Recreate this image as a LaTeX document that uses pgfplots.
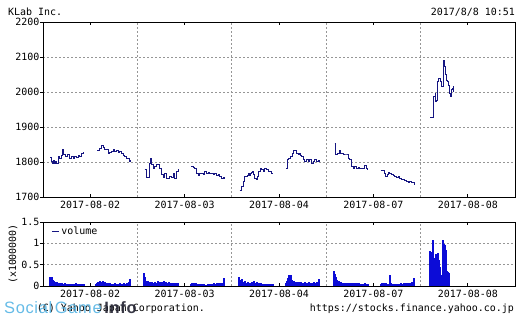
\documentclass[border=0pt]{standalone}
\usepackage{pgfplots}
\pgfplotsset{compat=1.18}
\usepackage{fontspec}
\setmainfont{DejaVu Sans Mono}
\newfontfamily\wmfont[LetterSpace=4]{Liberation Sans}
\definecolor{pricec}{RGB}{22,22,130}
\definecolor{volc}{RGB}{12,12,215}
\definecolor{gridc}{RGB}{150,150,150}
\definecolor{wmblue}{RGB}{85,180,228}
\definecolor{wmdark}{RGB}{35,35,50}
\pgfplotsset{
  common/.style={
    scale only axis, width=472bp,
    xmin=0, xmax=472,
    axis line style={black, line width=0.9bp},
    xtick={47.2,141.6,236,330.4,424.8},
    xticklabels={2017-08-02,2017-08-03,2017-08-04,2017-08-07,2017-08-08},
    minor xtick={94.4,188.8,283.2,377.6},
    xminorgrids, ymajorgrids,
    minor grid style={gridc, dash pattern=on 2bp off 2bp, line width=0.7bp},
    major grid style={gridc, dash pattern=on 2bp off 2bp, line width=0.7bp},
    minor tick length=0pt, major tick length=3bp,
    tick align=inside, ytick pos=left,
    y tick style={xshift=-3bp, black, line width=0.8bp},
    x tick style={black, line width=0.8bp},
    tick label style={font=\fontsize{10}{12}\selectfont},
    /pgf/number format/assume math mode=true,
    /pgf/number format/set thousands separator={},
    xticklabel style={yshift=-1bp},
  }
}
\begin{document}
\begin{tikzpicture}
\useasboundingbox (0,0) rectangle (521bp,319bp);
% titles
\node[anchor=west, inner sep=0, font=\fontsize{10}{12}\selectfont] at (8bp,307bp) {KLab Inc.};
\node[anchor=east, inner sep=0, font=\fontsize{10}{12}\selectfont] at (515bp,307bp) {2017/8/8 10:51};
% price axis
\begin{axis}[common, at={(43bp,122bp)}, anchor=south west, height=175bp,
  ymin=1700, ymax=2200, ytick={1700,1800,...,2200}]
\addplot[const plot, pricec, line width=1bp] coordinates {
(7.3,1813)(8.5,1800)(9.5,1797)(10.5,1805)(11.5,1795)(12.5,1800)(13.3,1797)
(15,1816)(16.7,1811)(18.3,1819)(19.3,1835)(20.7,1821)(22.7,1816)(24,1821)
(26,1811)(28.3,1816)(30,1811)(31.7,1816)(33.3,1813)(35,1819)(36.7,1816)
(38.3,1823)(40,1826)(41,1826)};
\addplot[const plot, pricec, line width=1bp] coordinates {
(54.3,1832)(56.7,1838)(58.3,1848)(60,1842)(61.7,1835)(65,1825)(66.7,1828)
(68.3,1830)(70,1835)(71.7,1830)(73.3,1832)(75,1828)(76.7,1830)(78.3,1825)
(80,1819)(81.7,1816)(83.3,1811)(85,1811)(86,1802)(87.3,1806)};
\addplot[const plot, pricec, line width=1bp] coordinates {
(101.7,1778)(103.3,1756)(106,1797)(107.3,1811)(108.3,1792)(110,1782)
(111.7,1787)(113.3,1792)(115,1794)(116.7,1782)(118.3,1763)(120,1756)
(121.7,1768)(123.3,1754)(125,1752)(126.7,1759)(128.3,1756)(130,1766)
(131.7,1754)(133.3,1773)(135,1781)};
\addplot[const plot, pricec, line width=1bp] coordinates {
(148.3,1786)(150,1783)(151.7,1781)(153.3,1768)(155,1762)(156.7,1766)
(158.3,1768)(160,1763)(161.7,1773)(163.3,1768)(165,1771)(166.7,1766)
(168.3,1768)(170,1763)(171.7,1766)(173.3,1762)(175,1763)(176.7,1759)
(178.3,1754)(180,1756)(181.7,1752)};
\addplot[const plot, pricec, line width=1bp] coordinates {
(196.7,1719)(198.3,1730)(200,1744)(201,1759)(202.7,1759)(204,1760)(205,1768)
(206,1760)(207.3,1766)(208.3,1770)(209.3,1773)(210.7,1763)(211.7,1754)
(213.3,1749)(214,1759)(215.7,1773)(217.3,1780)(218.7,1778)(220,1773)
(221.7,1780)(223.3,1778)(225,1773)(226.7,1773)(228.3,1768)(229.3,1766)};
\addplot[const plot, pricec, line width=1bp] coordinates {
(243.3,1782)(244.3,1806)(245.3,1811)(247.3,1816)(249.3,1825)(250.7,1833)
(252,1833)(253.3,1825)(255,1820)(256,1825)(257.3,1818)(258.7,1816)(260,1808)
(261.7,1801)(263.3,1806)(265,1801)(266.7,1806)(268.3,1797)(270,1801)
(271.7,1806)(273.3,1801)(275,1804)(276.7,1801)};
\addplot[const plot, pricec, line width=1bp] coordinates {
(291.7,1854)(292.7,1820)(294,1825)(296,1833)(297.3,1825)(300,1820)(303.3,1820)
(305,1811)(306.7,1806)(308.3,1787)(310,1782)(311.7,1787)(313.3,1780)
(315,1785)(316.7,1780)(318.3,1782)(320,1780)(321.7,1789)(323.3,1782)
(324.3,1778)};
\addplot[const plot, pricec, line width=1bp] coordinates {
(337.7,1776)(340,1776)(341.7,1768)(342.7,1759)(344,1763)(345.3,1770)
(346.7,1768)(348.3,1763)(350,1760)(351.7,1759)(353.3,1757)(355,1759)
(356.7,1754)(358.3,1751)(360,1749)(361.7,1747)(363.3,1744)(365,1741)
(366.7,1743)(368.3,1741)(370,1742)(371.7,1735)};
\addplot[const plot, pricec, line width=1bp] coordinates {
(387.3,1928)(389.7,1928)(390,1968)(390.7,1987)(392,1996)(392.7,1972)
(393.7,1977)(394,2006)(394.7,2030)(395.7,2039)(397,2030)(398,2030)
(398.7,2015)(400,2015)(400.7,2091)(401.3,2072)(402,2049)(403,2034)
(404.7,2030)(405.7,2020)(406.3,1996)(407,1987)(408,2006)(409.3,2010)
(410.3,2017)(410.7,2001)};
\end{axis}
% volume axis
\begin{axis}[common, at={(43bp,33bp)}, anchor=south west, height=64bp,
  ymin=0, ymax=1.5, ytick={0,0.5,1,1.5}, yticklabels={0,0.5,1,1.5},
  legend style={draw=none, fill=none, at={(0.015,0.98)}, anchor=north west,
    font=\fontsize{10}{12}\selectfont, inner sep=1pt},
  legend image code/.code={\draw[#1] (0bp,0bp) -- (7bp,0bp);}]
\addlegendimage{pricec, line width=1bp}
\addlegendentry{volume}
\addplot[ycomb, volc, line width=1.05bp, forget plot] coordinates {
(7,0.21)(8,0.22)(9,0.2)(10,0.15)(11,0.12)(12,0.1)(13,0.08)(14,0.1)(15,0.07)
(16,0.06)(17,0.08)(18,0.05)(19,0.06)(20,0.04)(21,0.05)(22,0.06)(23,0.04)
(24,0.03)(25,0.05)(26,0.04)(27,0.05)(28,0.03)(29,0.04)(30,0.05)(31,0.03)
(32,0.04)(33,0.06)(34,0.03)(35,0.04)(36,0.05)(37,0.03)(38,0.04)(39,0.05)
(40,0.04)(41,0.05)
(53,0.04)(54,0.06)(55,0.1)(56,0.08)(57,0.11)(58,0.07)(59,0.1)(60,0.12)
(61,0.06)(62,0.1)(63,0.08)(64,0.06)(65,0.07)(66,0.05)(67,0.06)(68,0.04)
(69,0.05)(70,0.03)(71,0.04)(72,0.06)(73,0.03)(74,0.04)(75,0.05)(76,0.03)
(77,0.06)(78,0.04)(79,0.05)(80,0.03)(81,0.07)(82,0.04)(83,0.05)(84,0.06)
(85,0.04)(86,0.09)(87,0.17)
(101,0.3)(102,0.2)(103,0.12)(104,0.1)(105,0.12)(106,0.08)(107,0.1)(108,0.07)
(109,0.09)(110,0.06)(111,0.08)(112,0.1)(113,0.06)(114,0.08)(115,0.12)
(116,0.07)(117,0.09)(118,0.05)(119,0.1)(120,0.07)(121,0.12)(122,0.06)
(123,0.1)(124,0.08)(125,0.05)(126,0.1)(127,0.07)(128,0.05)(129,0.08)
(130,0.06)(131,0.04)(132,0.07)(133,0.05)(134,0.06)(135,0.07)
(148,0.05)(149,0.08)(150,0.06)(151,0.07)(152,0.04)(153,0.06)(154,0.05)
(155,0.04)(156,0.05)(157,0.03)(158,0.04)(159,0.05)(160,0.03)(161,0.04)
(162,0.03)(163,0.02)(164,0.03)(165,0.04)(166,0.03)(167,0.04)(168,0.05)
(169,0.03)(170,0.04)(171,0.06)(172,0.04)(173,0.05)(174,0.07)(175,0.05)
(176,0.06)(177,0.08)(178,0.05)(179,0.07)(180,0.06)(181,0.18)
(196,0.2)(197,0.14)(198,0.1)(199,0.16)(200,0.08)(201,0.1)(202,0.12)(203,0.08)
(204,0.06)(205,0.1)(206,0.07)(207,0.08)(208,0.06)(209,0.1)(210,0.07)
(211,0.12)(212,0.08)(213,0.06)(214,0.1)(215,0.06)(216,0.05)(217,0.08)
(218,0.06)(219,0.04)(220,0.05)(221,0.04)(222,0.05)(223,0.04)(224,0.05)
(225,0.04)(226,0.05)(227,0.04)(228,0.05)(229,0.04)(230,0.05)
(243,0.06)(244,0.12)(245,0.18)(246,0.26)(247,0.18)(248,0.26)(249,0.15)
(250,0.1)(251,0.12)(252,0.08)(253,0.1)(254,0.09)(255,0.08)(256,0.1)
(257,0.07)(258,0.09)(259,0.06)(260,0.08)(261,0.07)(262,0.09)(263,0.06)
(264,0.08)(265,0.07)(266,0.1)(267,0.06)(268,0.08)(269,0.05)(270,0.07)
(271,0.09)(272,0.06)(273,0.08)(274,0.1)(275,0.07)(276,0.16)
(291,0.34)(292,0.28)(293,0.2)(294,0.14)(295,0.1)(296,0.12)(297,0.08)(298,0.1)
(299,0.07)(300,0.06)(301,0.08)(302,0.06)(303,0.07)(304,0.05)(305,0.08)
(306,0.06)(307,0.05)(308,0.07)(309,0.06)(310,0.08)(311,0.05)(312,0.06)
(313,0.04)(314,0.06)(315,0.05)(316,0.07)(317,0.04)(318,0.05)(319,0.04)
(320,0.05)(321,0.04)(322,0.06)(323,0.04)(324,0.05)(325,0.04)
(338,0.04)(339,0.06)(340,0.05)(341,0.07)(342,0.04)(343,0.06)(344,0.05)
(345,0.04)(346,0.05)(347,0.26)(348,0.06)(349,0.05)(350,0.04)(351,0.05)
(352,0.03)(353,0.04)(354,0.05)(355,0.03)(356,0.04)(357,0.05)(358,0.06)
(359,0.04)(360,0.05)(361,0.06)(362,0.04)(363,0.07)(364,0.05)(365,0.06)
(366,0.08)(367,0.05)(368,0.06)(369,0.09)(370,0.05)(371,0.18)
(387,0.82)(388,0.8)(389,0.55)(390,1.07)(391,0.6)(392,0.65)(393,0.75)
(394,0.6)(395,0.78)(396,0.62)(397,0.45)(398,0.25)(399,0.2)(400,1.07)
(401,0.98)(402,0.95)(403,0.85)(404,0.35)(405,0.33)(406,0.3)};
\end{axis}
\node[rotate=90, inner sep=0, font=\fontsize{10}{12}\selectfont] at (13bp,65bp) {(x1000000)};
% footer
\node[anchor=east, inner sep=0, font=\fontsize{10}{12}\selectfont] at (205bp,10bp) {(C) Yahoo Japan Corporation.};
\node[anchor=east, inner sep=0, font=\fontsize{10}{12}\selectfont] at (514bp,10bp) {https://stocks.finance.yahoo.co.jp};
\node[anchor=west, inner sep=0, opacity=0.9, font=\wmfont\fontsize{16.5}{16.5}\selectfont] at (4bp,11bp)
  {\textcolor{wmblue}{Social\,Game}\,\textcolor{wmdark}{\bfseries Info}};
\end{tikzpicture}
\end{document}
